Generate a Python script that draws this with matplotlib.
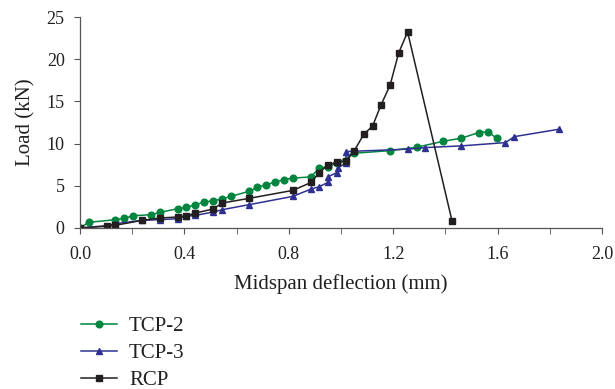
import matplotlib.pyplot as plt
from matplotlib.ticker import MultipleLocator

# TCP-2 (green, circles)
tcp2_x = [0.0, 0.033, 0.135, 0.17, 0.204, 0.272, 0.306, 0.374, 0.408, 0.442, 0.476,
          0.511, 0.544, 0.578, 0.646, 0.680, 0.713, 0.747, 0.780, 0.815, 0.884,
          0.917, 0.950, 0.985, 1.051, 1.188, 1.290, 1.392, 1.460, 1.527, 1.562, 1.596]
tcp2_y = [0.0, 0.66, 0.98, 1.14, 1.45, 1.57, 1.85, 2.28, 2.44, 2.75, 3.07,
          3.23, 3.43, 3.74, 4.33, 4.80, 5.12, 5.44, 5.71, 5.91, 6.05,
          7.09, 7.25, 7.68, 8.86, 9.17, 9.57, 10.28, 10.64, 11.30, 11.43, 10.64]

# TCP-3 (blue, triangles)
tcp3_x = [0.0, 0.102, 0.135, 0.238, 0.306, 0.374, 0.408, 0.442, 0.511, 0.544,
          0.646, 0.815, 0.885, 0.917, 0.949, 0.952, 0.985, 0.987, 1.019, 1.019,
          1.255, 1.323, 1.460, 1.630, 1.664, 1.834]
tcp3_y = [0.0, 0.27, 0.50, 0.90, 0.98, 1.10, 1.38, 1.49, 1.89, 2.16,
          2.75, 3.74, 4.61, 4.90, 5.39, 6.10, 6.57, 7.09, 7.72, 9.06,
          9.34, 9.53, 9.73, 10.12, 10.83, 11.70]

# RCP (black, squares)
rcp_x = [0.0, 0.102, 0.135, 0.238, 0.306, 0.374, 0.408, 0.442, 0.511, 0.544,
         0.646, 0.815, 0.885, 0.917, 0.949, 0.985, 1.019, 1.051, 1.087, 1.121,
         1.153, 1.188, 1.221, 1.255, 1.425]
rcp_y = [0.0, 0.20, 0.31, 0.90, 1.18, 1.30, 1.45, 1.77, 2.25, 2.95,
         3.50, 4.45, 5.39, 6.57, 7.48, 7.80, 7.88, 9.17, 11.10, 12.09,
         14.57, 16.94, 20.76, 23.24, 0.86]

plt.rcParams["font.family"] = ["Liberation Serif", "DejaVu Serif"]

fig = plt.figure(figsize=(6.15, 3.89), dpi=100)
ax = fig.add_axes([0.130, 0.414, 0.849, 0.542])

ax.plot(tcp2_x, tcp2_y, color="#00853f", marker="o", markersize=4.8,
        linewidth=1.1, label="TCP-2")
ax.plot(tcp3_x, tcp3_y, color="#2e3192", marker="^", markersize=4.8,
        linewidth=1.1, label="TCP-3")
ax.plot(rcp_x, rcp_y, color="#231f20", marker="s", markersize=4.8,
        linewidth=1.1, label="RCP")

ax.set_xlim(0, 2.0)
ax.set_ylim(0, 25)
ax.xaxis.set_major_locator(MultipleLocator(0.4))
ax.xaxis.set_minor_locator(MultipleLocator(0.2))
ax.yaxis.set_major_locator(MultipleLocator(5))
ax.xaxis.set_major_formatter(lambda v, p: f"{v:.1f}")

for s in ["top", "right"]:
    ax.spines[s].set_visible(False)
for s in ["left", "bottom"]:
    ax.spines[s].set_color("#555555")
    ax.spines[s].set_linewidth(0.9)

ax.tick_params(which="both", direction="out", length=4, color="#555555",
               labelsize=13, labelcolor="#231f20")
ax.tick_params(axis="x", pad=9)
ax.tick_params(axis="y", pad=7)

ax.set_xlabel("Midspan deflection (mm)", fontsize=15, color="#231f20", labelpad=8)
ax.set_ylabel("Load (kN)", fontsize=15, color="#231f20", labelpad=8)

fig.legend(loc="upper left", bbox_to_anchor=(0.132, 0.187), frameon=False,
           borderpad=0, borderaxespad=0,
           fontsize=15, handlelength=1.7, labelspacing=0.37, handletextpad=0.6,
           labelcolor="#231f20")

plt.savefig("out.png", dpi=100)
